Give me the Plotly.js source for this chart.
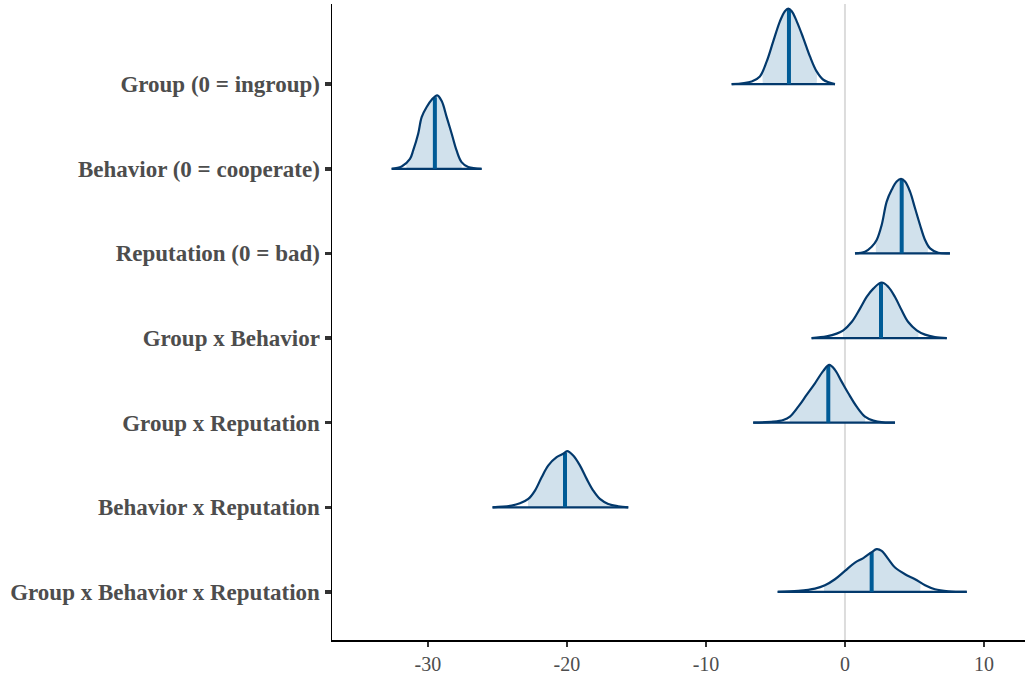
<!DOCTYPE html>
<html>
<head>
<meta charset="utf-8">
<script src="https://cdn.plot.ly/plotly-3.0.1.min.js"></script>
<style>html,body{margin:0;padding:0;background:#fff;}#chart{width:1025px;height:677px;}</style>
</head>
<body>
<div id="chart"></div>
<script>
// Parameter labels (top to bottom)
const paramLabels = ["Group (0 = ingroup)", "Behavior (0 = cooperate)", "Reputation (0 = bad)", "Group x Behavior", "Group x Reputation", "Behavior x Reputation", "Group x Behavior x Reputation"];

// Density grids (x) and scaled density heights
const groupX = [-8.15,-6.71,-6.12,-5.63,-5.16,-4.68,-4.32,-4.08,-3.83,-3.47,-3.00,-2.52,-2.04,-1.56,-0.72];
const groupD = [0,0.032,0.091,0.268,0.505,0.742,0.862,0.892,0.862,0.742,0.545,0.328,0.151,0.052,0];

const behaviorX = [-32.61,-31.89,-31.29,-31.06,-30.70,-30.45,-30.09,-29.73,-29.33,-29.01,-28.65,-28.29,-27.94,-27.58,-27.10,-26.14];
const behaviorD = [0,0.028,0.118,0.217,0.414,0.611,0.730,0.815,0.868,0.800,0.611,0.414,0.217,0.079,0.020,0];

const reputationX = [0.72,1.44,1.92,2.28,2.64,3.00,3.36,3.72,4.03,4.32,4.68,5.04,5.40,5.76,6.12,6.71,7.55];
const reputationD = [0,0.020,0.079,0.159,0.336,0.612,0.751,0.849,0.881,0.849,0.730,0.533,0.336,0.159,0.059,0.008,0];

const gxbX = [-2.40,-1.32,-0.60,-0.12,0.48,1.08,1.56,2.04,2.64,3.12,3.60,4.08,4.55,5.16,5.76,6.47,7.32];
const gxbD = [0,0.020,0.052,0.091,0.189,0.348,0.485,0.584,0.656,0.604,0.485,0.328,0.189,0.091,0.040,0.012,0];

const gxrX = [-6.60,-5.16,-4.44,-3.96,-3.36,-2.76,-2.16,-1.56,-1.13,-0.72,-0.24,0.24,0.84,1.44,2.04,2.76,3.60];
const gxrD = [0,0.012,0.032,0.071,0.189,0.328,0.465,0.612,0.683,0.624,0.485,0.347,0.189,0.071,0.024,0.004,0];

const bxrX = [-25.35,-23.98,-23.38,-22.78,-22.30,-21.82,-21.35,-20.74,-20.27,-19.98,-19.55,-19.06,-18.58,-18.11,-17.63,-17.03,-16.31,-15.59];
const bxrD = [0,0.020,0.047,0.099,0.198,0.355,0.493,0.592,0.632,0.663,0.612,0.493,0.336,0.198,0.099,0.040,0.012,0];

const gxbxrX = [-4.84,-3.36,-2.16,-1.44,-0.72,0,0.72,1.32,1.92,2.28,2.64,3.12,3.60,4.32,5.04,5.76,6.47,7.43,8.76];
const gxbxrD = [0,0.012,0.039,0.079,0.150,0.249,0.347,0.400,0.470,0.505,0.485,0.387,0.288,0.209,0.150,0.079,0.032,0.008,0];

// Point estimates (medians) and inner interval bounds
const medians = [-4.03, -29.50, 4.08, 2.59, -1.20, -20.14, 1.92];
const lowers  = [-5.91, -31.53, 2.23, -0.12, -3.96, -22.78, -1.50];
const uppers  = [-2.04, -27.58, 5.95, 5.27, 1.44, -17.03, 5.40];

const xTicks = [-30, -20, -10, 0, 10];

const densX = [groupX, behaviorX, reputationX, gxbX, gxrX, bxrX, gxbxrX];
const densD = [groupD, behaviorD, reputationD, gxbD, gxrD, bxrD, gxbxrD];

const n = paramLabels.length;
const basePos = paramLabels.map((_, i) => n - i); // 7 .. 1

function interp(xs, ys, x) {
  for (let k = 0; k < xs.length - 1; k++) {
    if (x >= xs[k] && x <= xs[k + 1]) {
      const t = (x - xs[k]) / (xs[k + 1] - xs[k]);
      return ys[k] + t * (ys[k + 1] - ys[k]);
    }
  }
  return 0;
}

const fills = [], baselines = [], meds = [], outlines = [];
for (let i = 0; i < n; i++) {
  const xs = densX[i], ds = densD[i], b = basePos[i];
  const lo = lowers[i], hi = uppers[i];
  // inner interval fill
  const fx = [lo, lo], fy = [b, b + interp(xs, ds, lo)];
  for (let k = 0; k < xs.length; k++) {
    if (xs[k] > lo && xs[k] < hi) { fx.push(xs[k]); fy.push(b + ds[k]); }
  }
  fx.push(hi, hi); fy.push(b + interp(xs, ds, hi), b);
  fills.push({x: fx, y: fy, type: 'scatter', mode: 'lines', fill: 'toself',
    fillcolor: '#d1e1ec', line: {width: 0, shape: 'spline', smoothing: 0.8},
    hoverinfo: 'skip', showlegend: false});
  baselines.push({x: [xs[0], xs[xs.length - 1]], y: [b, b], type: 'scatter', mode: 'lines',
    line: {color: '#03396c', width: 2.2}, hoverinfo: 'skip', showlegend: false});
  meds.push({x: [medians[i], medians[i]], y: [b, b + interp(xs, ds, medians[i])],
    type: 'scatter', mode: 'lines', line: {color: '#005b96', width: 4},
    hoverinfo: 'skip', showlegend: false});
  outlines.push({x: xs, y: ds.map(d => b + d), type: 'scatter', mode: 'lines',
    line: {color: '#03396c', width: 2.2, shape: 'spline', smoothing: 1},
    hoverinfo: 'skip', showlegend: false});
}

const layout = {
  width: 1025, height: 677,
  margin: {l: 332, r: 0, t: 4, b: 37},
  paper_bgcolor: '#ffffff', plot_bgcolor: '#ffffff',
  showlegend: false,
  font: {family: '"Liberation Serif", "DejaVu Serif", serif', color: '#4d4d4d'},
  xaxis: {
    range: [-36.9, 12.95], tickvals: xTicks, ticktext: xTicks.map(String),
    showgrid: false, zeroline: false, showline: true, linecolor: '#000000', linewidth: 1.5,
    ticks: 'outside', ticklen: 5, tickwidth: 1.2, tickcolor: '#333333',
    tickfont: {family: '"Liberation Serif", serif', size: 20, color: '#4d4d4d'}
  },
  yaxis: {
    range: [0.432, 7.947], tickvals: basePos, ticktext: paramLabels,
    showgrid: false, zeroline: false, showline: true, linecolor: '#000000', linewidth: 1.5,
    ticks: 'outside', ticklen: 6, tickwidth: 3.5, tickcolor: '#333333',
    tickfont: {family: '"Liberation Serif", serif', size: 23, color: '#4d4d4d', weight: 'bold'}
  },
  shapes: [{type: 'line', layer: 'below', xref: 'x', yref: 'paper', x0: 0, x1: 0, y0: 0, y1: 1,
    line: {color: '#dcdcdc', width: 2}}]
};

Plotly.newPlot('chart', [...fills, ...baselines, ...meds, ...outlines], layout, {displayModeBar: false, staticPlot: true});
</script>
</body>
</html>
